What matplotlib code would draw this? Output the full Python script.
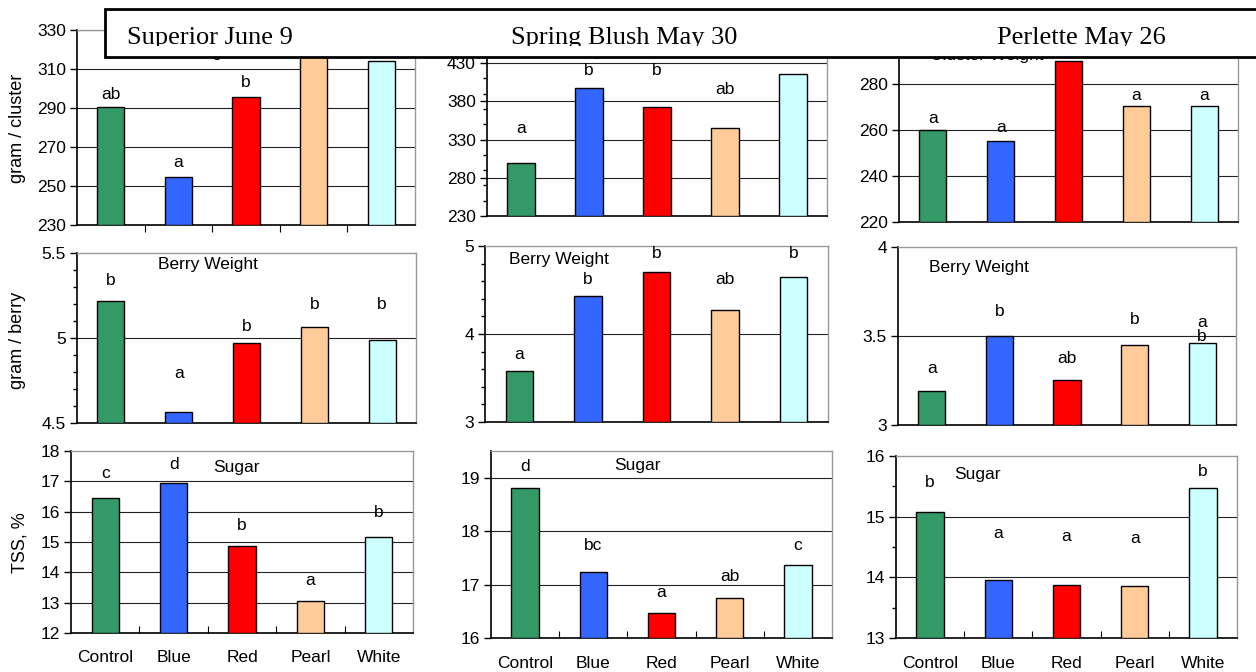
import matplotlib
matplotlib.use('Agg')
import matplotlib.pyplot as plt
from matplotlib.patches import Rectangle
from matplotlib.ticker import FixedLocator, FormatStrFormatter
from matplotlib.transforms import Bbox, TransformedBbox
import numpy as np

plt.rcParams['font.family'] = ['Liberation Sans', 'DejaVu Sans']

categories = ['Control', 'Blue', 'Red', 'Pearl', 'White']
colors = ['#339966', '#3366FF', '#FF0000', '#FFCC99', '#CCFFFF']
titles = ['Superior June 9', 'Spring Blush May 30', 'Perlette May 26']

# Superior
sup_cluster = [290.5, 254.7, 295.7, 322, 314.3]
sup_cluster_letters = ['ab', 'a', 'b', '', '']
sup_cluster_ly = [297, 262, 303, 0, 0]
sup_berry = [5.218, 4.565, 4.97, 5.063, 4.988]
sup_berry_letters = ['b', 'a', 'b', 'b', 'b']
sup_berry_ly = [5.34, 4.79, 5.07, 5.195, 5.195]
sup_sugar = [16.45, 16.95, 14.87, 13.07, 15.16]
sup_sugar_letters = ['c', 'd', 'b', 'a', 'b']
sup_sugar_ly = [17.26, 17.56, 15.56, 13.73, 15.96]

# Spring Blush
sb_cluster = [299.5, 397.7, 373, 344.6, 416]
sb_cluster_letters = ['a', 'b', 'b', 'ab', '']
sb_cluster_ly = [345, 420, 420, 396, 0]
sb_berry = [3.583, 4.435, 4.708, 4.276, 4.65]
sb_berry_letters = ['a', 'b', 'b', 'ab', 'b']
sb_berry_ly = [3.77, 4.625, 4.92, 4.625, 4.92]
sb_sugar = [18.8, 17.23, 16.47, 16.74, 17.37]
sb_sugar_letters = ['d', 'bc', 'a', 'ab', 'c']
sb_sugar_ly = [19.21, 17.73, 16.85, 17.16, 17.73]

# Perlette
pe_cluster = [260, 255.1, 290, 270.3, 270.3]
pe_cluster_letters = ['a', 'a', '', 'a', 'a']
pe_cluster_ly = [265, 261, 0, 275, 275]
pe_berry = [3.191, 3.5, 3.254, 3.449, 3.462]
pe_berry_letters = ['a', 'b', 'ab', 'b', 'a\nb']
pe_berry_ly = [3.32, 3.64, 3.376, 3.59, 3.535]
pe_sugar = [15.08, 13.96, 13.88, 13.86, 15.47]
pe_sugar_letters = ['b', 'a', 'a', 'a', 'b']
pe_sugar_ly = [15.56, 14.72, 14.67, 14.64, 15.75]

W, H = 1256, 672
fig = plt.figure(figsize=(W / 100, H / 100), dpi=100)


def make_ax(l, r, t, b):
    return fig.add_axes([l / W, 1 - b / H, (r - l) / W, (b - t) / H])


def panel(ax, vals, letters, ly, ylim, major, minor=None, grid=None,
          title=None, title_xy=None, xlabels=False, xtick_dir=None, fmt='%g'):
    x = np.arange(len(vals))
    ax.bar(x, np.array(vals) - ylim[0], bottom=ylim[0], width=0.4,
           color=colors, edgecolor='black', linewidth=1.0, zorder=3)
    for xi, s, yy in zip(x, letters, ly):
        if s:
            ax.text(xi, yy, s, ha='center', va='center', fontsize=12.5,
                    linespacing=0.9, zorder=4)
    ax.set_xlim(-0.5, len(vals) - 0.5)
    ax.set_ylim(*ylim)
    ax.yaxis.set_major_locator(FixedLocator(major))
    ax.yaxis.set_major_formatter(FormatStrFormatter(fmt))
    if minor is not None:
        ax.yaxis.set_minor_locator(FixedLocator(minor))
    if grid is None:
        grid = major
    for g in grid:
        ax.axhline(g, color='#222222', linewidth=0.8, zorder=1)
    ax.tick_params(axis='y', which='major', direction='out', length=5,
                   width=1, labelsize=12.5, pad=3)
    ax.tick_params(axis='y', which='minor', direction='out', length=3, width=1)
    if xtick_dir is None:
        ax.set_xticks([])
    else:
        ax.xaxis.set_major_locator(FixedLocator(np.arange(0.5, len(vals) - 1, 1.0)))
        ax.tick_params(axis='x', direction=xtick_dir, length=5, width=0.8,
                       labelbottom=False)
    if xlabels:
        hpx = ax.bbox.height
        for xi, c in zip(x, categories):
            ax.text(xi, -25.0 / hpx, c, transform=ax.get_xaxis_transform(),
                    ha='center', va='center', fontsize=12.5)
    for s in ['left', 'bottom']:
        ax.spines[s].set_color('black')
        ax.spines[s].set_linewidth(1.2)
    for s in ['top', 'right']:
        ax.spines[s].set_color('#999999')
        ax.spines[s].set_linewidth(1.0)
    if title:
        ax.text(title_xy[0], title_xy[1], title, transform=ax.transAxes,
                ha='center', va='center', fontsize=12.5, zorder=4)


# column 1: Superior
ax = make_ax(77, 415, 30, 225)
panel(ax, sup_cluster, sup_cluster_letters, sup_cluster_ly, (230, 330),
      np.arange(230, 331, 20), grid=np.arange(250, 331, 20),
      title='Cluster Weight', title_xy=(0.305, 0.885), xtick_dir='out')
ax = make_ax(77, 416, 253, 423)
panel(ax, sup_berry, sup_berry_letters, sup_berry_ly, (4.5, 5.5),
      [4.5, 5, 5.5], minor=np.arange(4.5, 5.51, 0.1), grid=[5],
      title='Berry Weight', title_xy=(0.385, 0.93))
ax = make_ax(71, 413, 451, 633)
panel(ax, sup_sugar, sup_sugar_letters, sup_sugar_ly, (12, 18),
      np.arange(12, 19, 1), grid=np.arange(13, 18, 1),
      title='Sugar', title_xy=(0.485, 0.91), xlabels=True, xtick_dir='in')

# column 2: Spring Blush
ax = make_ax(487, 827, 47.7, 216)
panel(ax, sb_cluster, sb_cluster_letters, sb_cluster_ly, (230, 450),
      np.arange(230, 431, 50), minor=np.arange(230, 451, 20),
      grid=np.arange(280, 431, 50),
      title='Cluster Weight', title_xy=(0.215, 0.975))
ax = make_ax(485, 828, 246, 422)
panel(ax, sb_berry, sb_berry_letters, sb_berry_ly, (3, 5),
      [3, 4, 5], minor=np.arange(3, 5.01, 0.2), grid=[4],
      title='Berry Weight', title_xy=(0.215, 0.925))
ax = make_ax(491, 832, 451, 638)
panel(ax, sb_sugar, sb_sugar_letters, sb_sugar_ly, (16, 19.5),
      [16, 17, 18, 19], grid=[17, 18, 19],
      title='Sugar', title_xy=(0.43, 0.92), xlabels=True, xtick_dir='in')

# column 3: Perlette
ax = make_ax(899, 1238, 38, 222)
panel(ax, pe_cluster, pe_cluster_letters, pe_cluster_ly, (220, 300),
      [220, 240, 260, 280], grid=[240, 260, 280],
      title='Cluster Weight', title_xy=(0.26, 0.905))
ax = make_ax(898, 1236, 247, 425)
panel(ax, pe_berry, pe_berry_letters, pe_berry_ly, (3, 4),
      [3, 3.5, 4], grid=[3.5],
      title='Berry Weight', title_xy=(0.24, 0.885))
ax = make_ax(896, 1237, 456, 638)
panel(ax, pe_sugar, pe_sugar_letters, pe_sugar_ly, (13, 16),
      [13, 14, 15, 16], minor=np.arange(13, 16.01, 0.5), grid=[14, 15],
      title='Sugar', title_xy=(0.24, 0.9), xlabels=True, xtick_dir='in')

# y labels
fig.text(18 / W, 1 - 128 / H, 'gram / cluster', rotation=90, ha='center',
         va='center', fontsize=13)
fig.text(18 / W, 1 - 340 / H, 'gram / berry', rotation=90, ha='center',
         va='center', fontsize=13)
fig.text(20 / W, 1 - 543 / H, 'TSS, %', rotation=90, ha='center',
         va='center', fontsize=13)

# title banner across the top
banner = Rectangle((105 / W, 1 - 57 / H), (W + 10 - 105) / W, 48 / H,
                   transform=fig.transFigure, facecolor='white',
                   edgecolor='black', linewidth=2.0, zorder=10)
fig.add_artist(banner)
clip = TransformedBbox(Bbox([[105 / W, 1 - 46 / H], [1.0, 1 - 9 / H]]),
                       fig.transFigure)
for t, xp in zip(titles, [127, 511, 997]):
    txt = fig.text(xp / W, 1 - 44 / H, t, ha='left', va='baseline',
                   fontsize=19, family='Liberation Serif', zorder=11)
    txt.set_clip_box(clip)
    txt.set_clip_on(True)

plt.savefig('out.png', dpi=100)
